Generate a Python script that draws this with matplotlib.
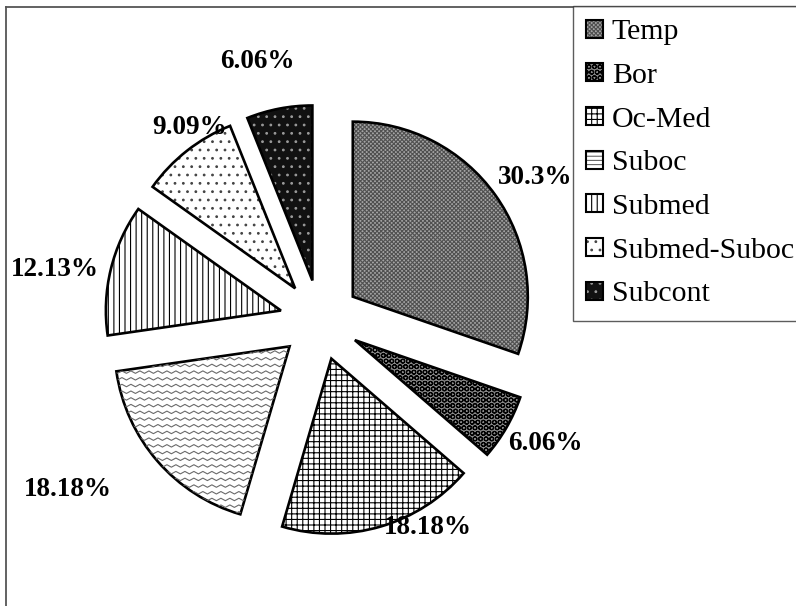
import numpy as np
import matplotlib
matplotlib.use("Agg")
import matplotlib.pyplot as plt
from matplotlib.patches import Rectangle
from matplotlib.lines import Line2D
from matplotlib.legend_handler import HandlerTuple

plt.rcParams['font.family'] = ['Liberation Serif', 'DejaVu Serif']
plt.rcParams['hatch.linewidth'] = 0.8

# data
labels = ['Temp', 'Bor', 'Oc-Med', 'Suboc', 'Submed', 'Submed-Suboc', 'Subcont']
values = [30.3, 6.06, 18.18, 18.18, 12.13, 9.09, 6.06]
pct_text = ['30.3%', '6.06%', '18.18%', '18.18%', '12.13%', '9.09%', '6.06%']

# styles
faces = ['#a4a4a4', '#8a8a8a', 'white', 'white', 'white', 'white', '#111111']
hatch_cols = ['#505050', 'black', 'black', '#666666', 'black', '#444444', '#9a9a9a']
hatches = ['xxxxxxxx', 'OOO', '+++', '', '|||', '..', '..']
# label placement: distance (in radii) and angle (deg) from each exploded wedge centre
label_r = [1.244, 1.237, 1.11, 1.51, 1.31, 1.097, 1.288]
label_ang = [33.1, -28.4, -60.2, -147.2, 169.8, 123.3, 104.0]

W, H = 796, 606
R = 175.0       # px per data unit (pie radius)
cx, cy = 320, 320

fig = plt.figure(figsize=(W / 100, H / 100), dpi=100)
ax = fig.add_axes([0, 0, 1, 1])

explode = [0.23] * len(values)
wedges, _ = ax.pie(values, startangle=90, counterclock=False, explode=explode,
                   radius=1, wedgeprops=dict(linewidth=0))
for w, fc, hc, h in zip(wedges, faces, hatch_cols, hatches):
    w.set_facecolor(fc)
    w.set_edgecolor(hc)
    w.set_hatch(h)
    w.set_linewidth(0)

# zigzag fill for Suboc
sub = wedges[3]
xs = np.arange(-1.8, 0.6, 0.0514 / 2)
zz = np.where(np.arange(len(xs)) % 2 == 0, 0.007, -0.007)
for y0 in np.arange(-1.6, 0.4, 0.0383):
    ln, = ax.plot(xs, y0 + zz, color='#6a6a6a', lw=0.8)
    ln.set_clip_path(sub)

outl, _ = ax.pie(values, startangle=90, counterclock=False, explode=explode,
                 radius=1, wedgeprops=dict(facecolor='none', edgecolor='black', linewidth=1.9))

for w, t, r, a in zip(outl, pct_text, label_r, label_ang):
    x0, y0 = w.center
    ax.text(x0 + r * np.cos(np.radians(a)), y0 + r * np.sin(np.radians(a)), t,
            ha='center', va='center', fontsize=19.5, fontweight='bold')

ax.set_xlim(-cx / R, (W - cx) / R)
ax.set_ylim(-(H - cy) / R, cy / R)
ax.set_aspect('auto')
ax.axis('off')

# legend
handles = []
for fc, hc, h, lab in zip(faces, hatch_cols, hatches, labels):
    if lab == 'Suboc':
        h = '----'
    p1 = Rectangle((0, 0), 1, 1, facecolor=fc, edgecolor=hc, hatch=h, linewidth=0)
    p2 = Rectangle((0, 0), 1, 1, facecolor='none', edgecolor='black', linewidth=1.5)
    handles.append((p1, p2))
leg = fig.legend(handles, labels, loc='upper left',
                 bbox_to_anchor=(573 / W, 1 - 6 / H), bbox_transform=fig.transFigure,
                 borderaxespad=0, fontsize=21.5, frameon=True, fancybox=False,
                 handler_map={tuple: HandlerTuple(ndivide=1)},
                 handlelength=0.55, handleheight=0.55, handletextpad=0.3,
                 labelspacing=0.59, borderpad=0.45)
leg.get_frame().set_edgecolor('#333333')
leg.get_frame().set_linewidth(1.0)

# outer frame (left and top)
fig.add_artist(Line2D([5.5 / W, 5.5 / W], [0, 1 - 6.5 / H], color='#555555', lw=1.3,
                      transform=fig.transFigure))
fig.add_artist(Line2D([5.5 / W, 1], [1 - 6.5 / H, 1 - 6.5 / H], color='#555555', lw=1.3,
                      transform=fig.transFigure))

fig.savefig('out.png', dpi=100)
